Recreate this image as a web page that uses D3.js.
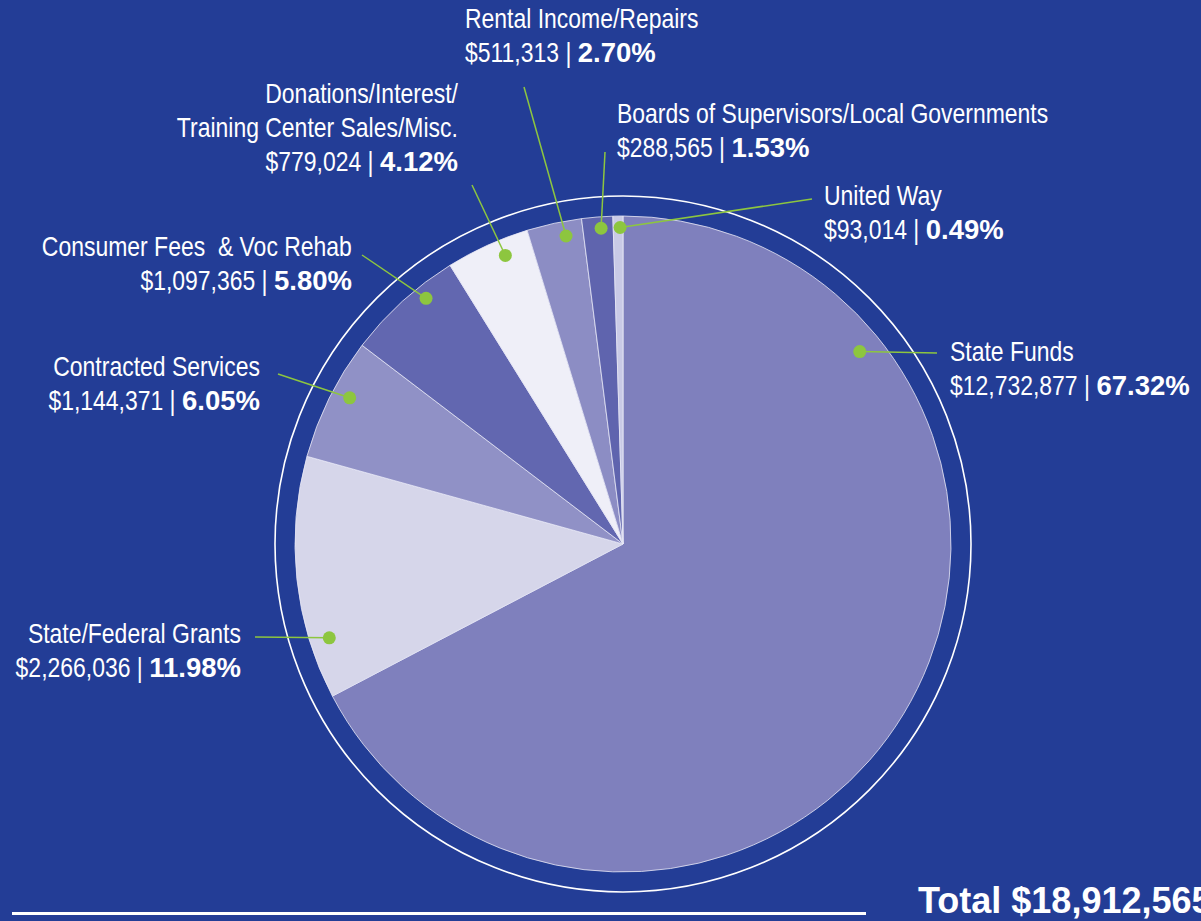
<!DOCTYPE html>
<html>
<head>
<meta charset="utf-8">
<script src="https://cdn.jsdelivr.net/npm/d3@7"></script>
<style>
  html, body { margin: 0; padding: 0; background: #233d96; overflow: hidden; }
  svg { display: block; }
  text { white-space: pre; }
</style>
</head>
<body>
<div id="chart"></div>
<script>
// revenue sources, clockwise from 12 o'clock
var names = [
  ["State Funds"],
  ["State/Federal Grants"],
  ["Contracted Services"],
  ["Consumer Fees  & Voc Rehab"],
  ["Donations/Interest/", "Training Center Sales/Misc."],
  ["Rental Income/Repairs"],
  ["Boards of Supervisors/Local Governments"],
  ["United Way"]
];
var amounts = [12732877, 2266036, 1144371, 1097365, 779024, 511313, 288565, 93014];
var pcts = ["67.32%", "11.98%", "6.05%", "5.80%", "4.12%", "2.70%", "1.53%", "0.49%"];
var sliceColors = ["#7f80bd", "#d6d6ea", "#9091c6", "#6267b0", "#efeff8", "#8c8dc4", "#5f64ae", "#c9cae6"];

// label layout: anchor, text x, first baseline, leader start, dot position within slice
var labelLayout = [
  {anchor: "start", x: 950, y: 361, lx: 937, ly: 353, t: 0.21, rf: 0.93},
  {anchor: "end",   x: 241, y: 643, lx: 255, ly: 637, t: 0.23, rf: 0.94},
  {anchor: "end",   x: 260, y: 376, lx: 278, ly: 374, t: 0.58, rf: 0.945},
  {anchor: "end",   x: 352, y: 256, lx: 362, ly: 255, t: 0.67, rf: 0.96},
  {anchor: "end",   x: 458, y: 103, lx: 472, ly: 185, t: 0.65, rf: 0.95},
  {anchor: "start", x: 465, y: 28,  lx: 524, ly: 87,  t: 0.67, rf: 0.955},
  {anchor: "start", x: 617, y: 123, lx: 605, ly: 152, t: 0.6,  rf: 0.965},
  {anchor: "start", x: 824, y: 205, lx: 812, ly: 199, t: 0.7,  rf: 0.965}
];

var width = 1201, height = 921;
var cx = 623, cy = 544, radius = 328, ringR = 348;
var green = "#8dc63f";
var font = "'Liberation Sans', Arial, sans-serif";
var squeeze = 0.82;   // narrow face look
var fontSize = 28, lineH = 34;

var data = amounts.map(function(v, i) {
  return {name: names[i], amount: v, pct: pcts[i], color: sliceColors[i], lay: labelLayout[i]};
});
var total = d3.sum(amounts);

var svg = d3.select("#chart").append("svg")
  .attr("width", width)
  .attr("height", height);

svg.append("rect")
  .attr("width", width).attr("height", height)
  .attr("fill", "#233d96");

var g = svg.append("g")
  .attr("transform", "translate(" + cx + "," + cy + ")");

// thin outer ring
g.append("circle")
  .attr("r", ringR)
  .attr("fill", "none")
  .attr("stroke", "#ffffff")
  .attr("stroke-width", 1.6);

var pie = d3.pie()
  .sort(null)
  .value(function(d) { return d.amount; });

var arc = d3.arc()
  .innerRadius(0)
  .outerRadius(radius);

var arcs = pie(data);

g.selectAll(".slice")
  .data(arcs)
  .enter().append("path")
  .attr("class", "slice")
  .attr("d", arc)
  .attr("fill", function(d) { return d.data.color; })
  .attr("stroke", "#e8e8f6")
  .attr("stroke-width", 0.8);

// dot position along each slice
function dotPos(d) {
  var a = d.startAngle + (d.endAngle - d.startAngle) * d.data.lay.t;
  var r = radius * d.data.lay.rf;
  return [cx + r * Math.sin(a), cy - r * Math.cos(a)];
}

var leaders = svg.append("g").attr("class", "leaders");

leaders.selectAll("line")
  .data(arcs)
  .enter().append("line")
  .attr("x1", function(d) { return d.data.lay.lx; })
  .attr("y1", function(d) { return d.data.lay.ly; })
  .attr("x2", function(d) { return dotPos(d)[0]; })
  .attr("y2", function(d) { return dotPos(d)[1]; })
  .attr("stroke", green)
  .attr("stroke-width", 1.5);

leaders.selectAll("circle")
  .data(arcs)
  .enter().append("circle")
  .attr("cx", function(d) { return dotPos(d)[0]; })
  .attr("cy", function(d) { return dotPos(d)[1]; })
  .attr("r", 6.5)
  .attr("fill", green);

var fmt = d3.format("$,");

// narrow text: squeezed horizontally around its own origin
function narrowText(parent, str, x, y) {
  var t = parent.append("text")
    .attr("fill", "#ffffff")
    .style("font-family", font)
    .style("font-size", fontSize + "px")
    .text(str);
  var w = t.node().getComputedTextLength() * squeeze;
  t.attr("transform", "translate(" + x + "," + y + ") scale(" + squeeze + ",1)");
  return {sel: t, w: w};
}

var labelG = svg.append("g").attr("class", "labels");

data.forEach(function(d) {
  var lay = d.lay;
  var grp = labelG.append("g");
  d.name.forEach(function(line, i) {
    var y = lay.y + i * lineH;
    var tmp = narrowText(grp, line, 0, y);
    var x0 = lay.anchor === "end" ? lay.x - tmp.w : lay.x;
    tmp.sel.attr("transform", "translate(" + x0 + "," + y + ") scale(" + squeeze + ",1)");
  });
  var yy = lay.y + d.name.length * lineH;
  var amt = narrowText(grp, fmt(d.amount) + " | ", 0, yy);
  var bold = grp.append("text")
    .attr("fill", "#ffffff")
    .style("font-family", font)
    .style("font-weight", "bold")
    .style("font-size", (fontSize - 0.5) + "px")
    .text(d.pct);
  var bw = bold.node().getComputedTextLength();
  var x0 = lay.anchor === "end" ? lay.x - amt.w - bw : lay.x;
  amt.sel.attr("transform", "translate(" + x0 + "," + yy + ") scale(" + squeeze + ",1)");
  bold.attr("x", x0 + amt.w).attr("y", yy);
});

// bottom rule and total
svg.append("rect")
  .attr("x", 12).attr("y", 912)
  .attr("width", 854).attr("height", 3)
  .attr("fill", "#ffffff");

svg.append("text")
  .attr("x", 918)
  .attr("y", 913)
  .attr("fill", "#ffffff")
  .style("font-family", font)
  .style("font-weight", "bold")
  .style("font-size", "36px")
  .text("Total " + fmt(total));
</script>
</body>
</html>
